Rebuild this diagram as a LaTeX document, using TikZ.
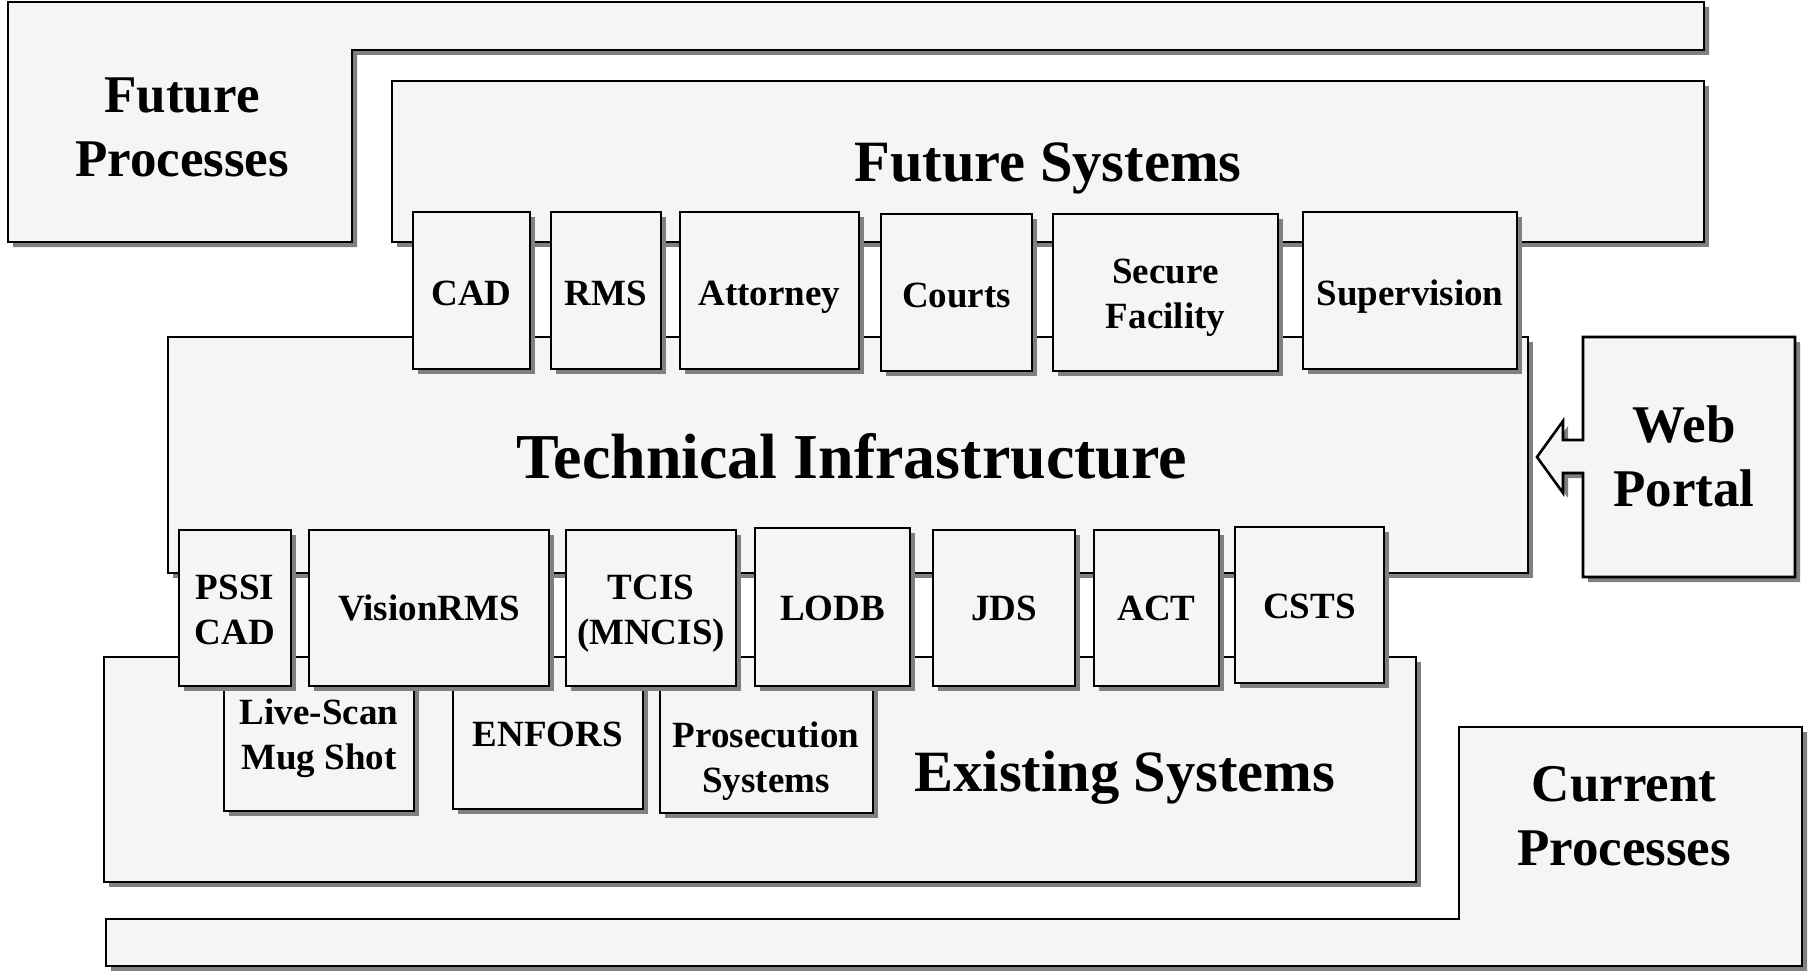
\documentclass[tikz,border=0pt]{standalone}
\usepackage{fontspec}
\setmainfont{Liberation Serif}
\usetikzlibrary{shadows,fit}
\definecolor{panelfill}{RGB}{245,245,245}
\definecolor{shadowgray}{RGB}{128,128,128}
% strut giving every text line the same height and depth
\newcommand\ls{\rule[-0.25em]{0pt}{1.05em}}

\begin{document}
\begin{tikzpicture}[x=1pt,y=-1pt,
  panel/.style={draw=black, line width=2.6pt, line join=miter, fill=panelfill,
    drop shadow={shadow xshift=5pt, shadow yshift=-5pt, fill=shadowgray, opacity=1}},
  block/.style={panel, rectangle, inner sep=0pt, outer sep=0pt},
  boxtext/.style={font=\bfseries\fontsize{37}{45}\selectfont, align=center, inner sep=0pt},
  proctext/.style={font=\bfseries\fontsize{53}{64}\selectfont, align=center, inner sep=0pt},
  layertext/.style={font=\bfseries\fontsize{58.5}{70}\selectfont, inner sep=0pt},
  coretext/.style={font=\bfseries\fontsize{64}{77}\selectfont, inner sep=0pt},
]
\useasboundingbox (0,0) rectangle (1808,971);
\fill[white] (0,0) rectangle (1808,971);

% process frames
\path[panel] (8,2) -- (1704,2) -- (1704,50) -- (352,50) -- (352,242) -- (8,242) -- cycle;
\node[proctext] (fpt) at (182,130.4) {\ls Future\\\ls Processes};

\path[panel] (106,919) -- (1459,919) -- (1459,727) -- (1802,727) -- (1802,966) -- (106,966) -- cycle;
\node[proctext] (cpt) at (1624,819.4) {\ls Current\\\ls Processes};

% layers
\node[block, fit={(392,81) (1704,242)}] (fs) {};
\node[layertext, anchor=base] (fst) at (1048,182) {Future Systems};

\node[block, fit={(168,337) (1528,573)}] (ti) {};
\node[coretext, anchor=base] (tit) at (852,478) {Technical Infrastructure};

\node[block, fit={(104,657) (1416,882)}] (es) {};
\node[layertext, anchor=base] (est) at (1125,791) {Existing Systems};

% existing systems, back row
\node[block, fit={(224,657) (414,811)}] (live) {};
\node[boxtext] (livet) at (319,737.3) {\ls Live-Scan\\\ls Mug Shot};
\node[block, fit={(453,657) (643,809)}] (enfors) {};
\node[boxtext, anchor=base] (enforst) at (548,746) {ENFORS};
\node[block, fit={(660,657) (873,813)}] (pros) {};
\node[boxtext] (prost) at (766,760.3) {\ls Prosecution\\\ls Systems};

% existing systems, front row
\node[block, fit={(179,530) (291,686)}] (pssi) {};
\node[boxtext] (pssit) at (235,612.3) {\ls PSSI\\\ls CAD};
\node[block, fit={(309,530) (549,686)}] (vision) {};
\node[boxtext, anchor=base] (visiont) at (429,620) {VisionRMS};
\node[block, fit={(566,530) (736,686)}] (tcis) {};
\node[boxtext] (tcist) at (651,612.3) {\ls TCIS\\\ls (MNCIS)};
\node[block, fit={(755,528) (910,686)}] (lodb) {};
\node[boxtext, anchor=base] (lodbt) at (832.5,620) {LODB};
\node[block, fit={(933,530) (1075,686)}] (jds) {};
\node[boxtext, anchor=base] (jdst) at (1004,620) {JDS};
\node[block, fit={(1094,530) (1219,686)}] (act) {};
\node[boxtext, anchor=base] (actt) at (1156.5,620) {ACT};
\node[block, fit={(1235,527) (1384,683)}] (csts) {};
\node[boxtext, anchor=base] (cstst) at (1309.5,618) {CSTS};

% future systems
\node[block, fit={(413,212) (530,369)}] (cad) {};
\node[boxtext, anchor=base] (cadt) at (471.5,305) {CAD};
\node[block, fit={(551,212) (661,369)}] (rms) {};
\node[boxtext, anchor=base] (rmst) at (606,305) {RMS};
\node[block, fit={(680,212) (859,369)}] (atty) {};
\node[boxtext, anchor=base] (attyt) at (769.5,305) {Attorney};
\node[block, fit={(881,214) (1032,371)}] (courts) {};
\node[boxtext, anchor=base] (courtst) at (956.5,307) {Courts};
\node[block, fit={(1053,214) (1278,371)}] (secure) {};
\node[boxtext] (securet) at (1165.5,296) {\ls Secure\\\ls Facility};
\node[block, fit={(1303,212) (1517,369)}] (super) {};
\node[boxtext, anchor=base] (supert) at (1410,305) {Supervision};

% web portal with its arrow into the infrastructure
\path[panel] (1583,337) -- (1795,337) -- (1795,577) -- (1583,577) -- (1583,473)
  -- (1563,473) -- (1563,493) -- (1537,457) -- (1563,421) -- (1563,440)
  -- (1583,440) -- cycle;
\node[proctext] (wpt) at (1684,460.4) {\ls Web\\\ls Portal};
\end{tikzpicture}
\end{document}
